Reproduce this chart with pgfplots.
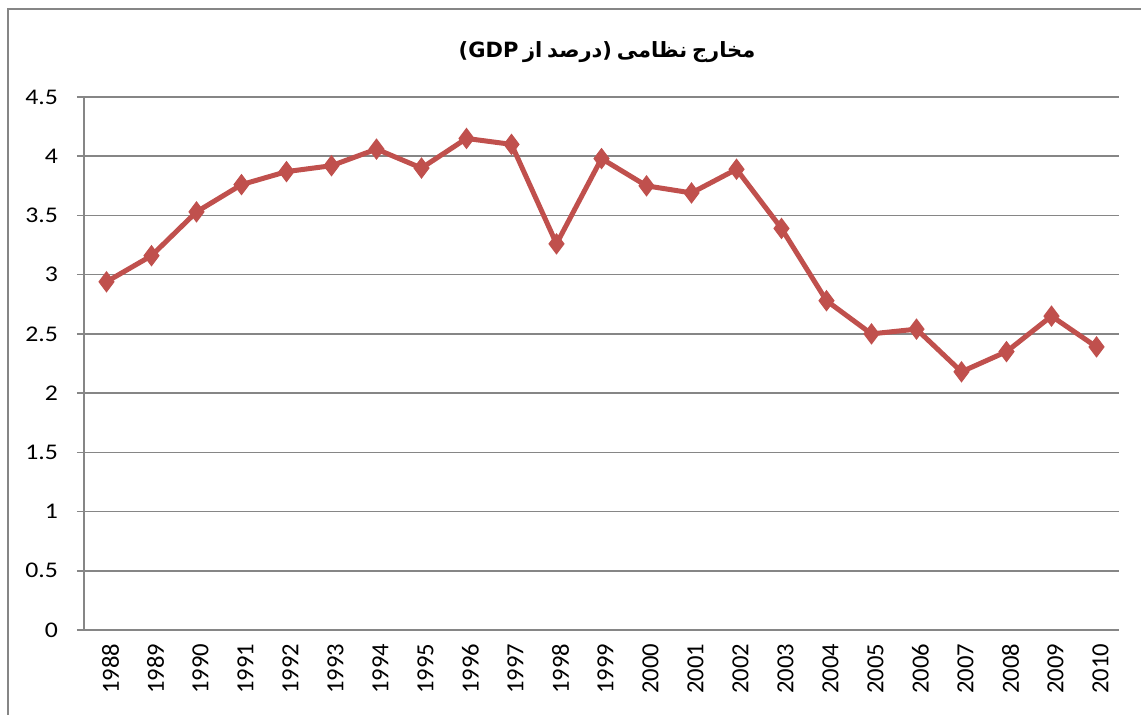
\documentclass[border=0pt]{standalone}
\usepackage{pgfplots}
\pgfplotsset{compat=1.18}
\usepackage{fontspec}
\setmainfont{Carlito}
\newfontfamily\ylabfont[FakeStretch=1.15]{Carlito}
\newfontfamily\arabicfont[Script=Arabic]{DejaVu Sans}
\newfontfamily\latinfont{DejaVu Sans}
\TeXXeTstate=1
\definecolor{exred}{HTML}{C0504D}
\definecolor{exgray}{HTML}{868686}
\pgfplotstableread{
x year val
0 1988 2.94
1 1989 3.16
2 1990 3.53
3 1991 3.76
4 1992 3.87
5 1993 3.92
6 1994 4.06
7 1995 3.90
8 1996 4.15
9 1997 4.10
10 1998 3.26
11 1999 3.98
12 2000 3.75
13 2001 3.69
14 2002 3.89
15 2003 3.39
16 2004 2.78
17 2005 2.50
18 2006 2.54
19 2007 2.18
20 2008 2.35
21 2009 2.65
22 2010 2.39
}\datatable
\begin{document}
\begin{tikzpicture}
\useasboundingbox (0,0) rectangle (570.5pt,357.5pt);
\draw[exgray, line width=0.75pt] (4pt,-20pt) -- (4pt,353pt) -- (620pt,353pt);
\node[font=\bfseries\fontsize{10.5}{12}\selectfont, inner sep=0pt] at (303.5pt,331.5pt)
  {\hbox{\latinfont\bfseries (GDP}\ \hbox{\arabicfont\bfseries\beginR از\endR}\ \hbox{\arabicfont\bfseries\beginR درصد\endR}\hbox{\latinfont\bfseries )}\ \hbox{\arabicfont\bfseries\beginR نظامی\endR}\ \hbox{\arabicfont\bfseries\beginR مخارج\endR}};
\begin{axis}[
  at={(42pt,42.5pt)}, anchor=south west,
  scale only axis, width=517.5pt, height=266.5pt,
  xmin=-0.5, xmax=22.5, ymin=0, ymax=4.5,
  axis x line=bottom, axis y line=left,
  axis line style={exgray, line width=0.75pt, -},
  xtick={0,...,22},
  xticklabels={1988,1989,1990,1991,1992,1993,1994,1995,1996,1997,1998,1999,2000,2001,2002,2003,2004,2005,2006,2007,2008,2009,2010},
  minor xtick={-0.5,0.5,...,22.5},
  xtick style={draw=none},
  minor x tick style={exgray, line width=0.75pt},
  minor tick length=3.5pt,
  ytick={0,0.5,...,4.5},
  yticklabels={0,0.5,1,1.5,2,2.5,3,3.5,4,4.5},
  y tick style={exgray, line width=0.75pt},
  major tick length=3.5pt,
  tick align=outside,
  ymajorgrids,
  grid style={exgray, line width=0.75pt},
  xticklabel style={rotate=90, anchor=east, font=\fontsize{12.3}{12}\selectfont, yshift=-2pt},
  yticklabel style={font=\ylabfont\fontsize{11.2}{11}\selectfont, xshift=-6pt},
  clip=false,
]
\addplot[exred, line width=2.5pt, mark=diamond*, mark size=5pt, mark options={fill=exred, draw=exred, line width=0.5pt}]
  table[x=x, y=val] {\datatable};
\end{axis}
\end{tikzpicture}
\end{document}
